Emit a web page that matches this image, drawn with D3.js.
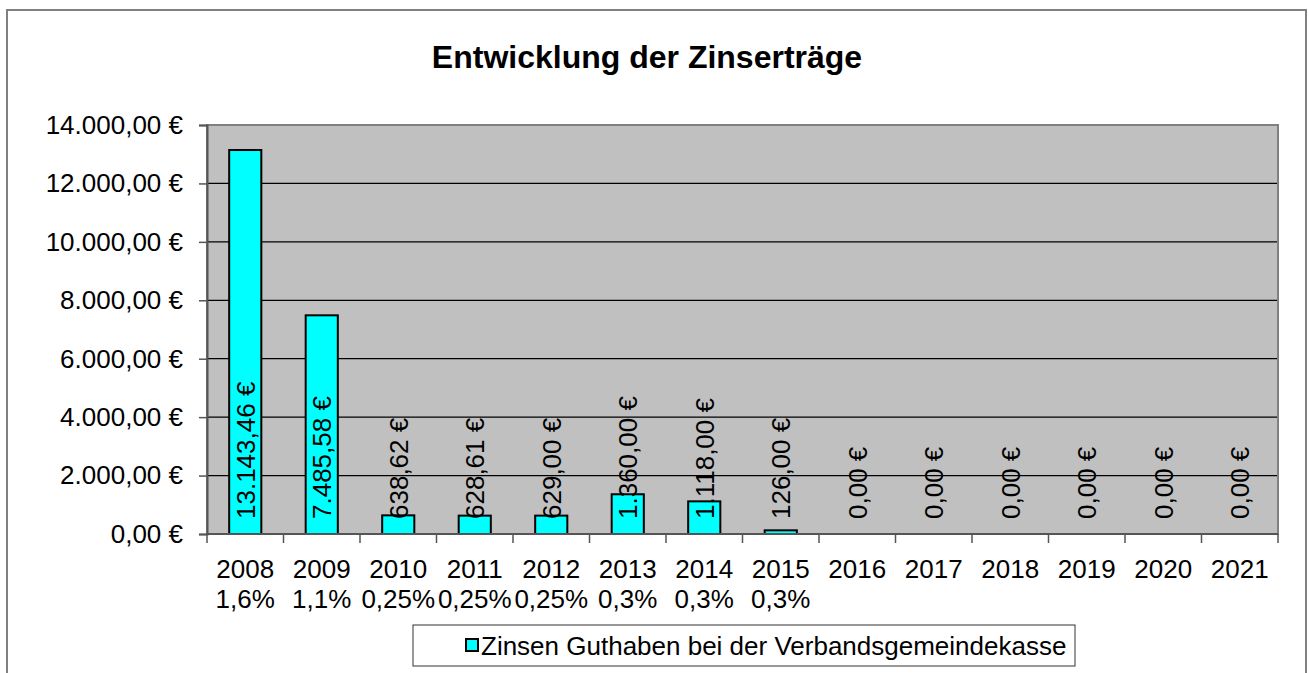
<!DOCTYPE html>
<html><head><meta charset="utf-8">
<script src="https://cdn.jsdelivr.net/npm/d3@7"></script>
<style>body{margin:0;background:#fff}svg{display:block}text{font-family:"Liberation Sans",Arial,sans-serif}</style>
</head><body>
<script>
const years = ["2008","2009","2010","2011","2012","2013","2014","2015","2016","2017","2018","2019","2020","2021"];
const rates = ["1,6%","1,1%","0,25%","0,25%","0,25%","0,3%","0,3%","0,3%","","","","","",""];
const values = [13143.46,7485.58,638.62,628.61,629.00,1360.00,1118.00,126.00,0,0,0,0,0,0];
const yTicks = [0,2000,4000,6000,8000,10000,12000,14000];
const title = "Entwicklung der Zinserträge";
const seriesName = "Zinsen Guthaben bei der Verbandsgemeindekasse";

const W=1309,H=673;
const m={l:207,r:1278,t:125,b:534};
const fmt = v => { const s = d3.format(",.2f")(v); return s.replace(/,/g,"#").replace(/\./g,",").replace(/#/g,".")+" €"; };

const svg=d3.select("body").append("svg").attr("width",W).attr("height",H);
svg.append("rect").attr("x",7).attr("y",10).attr("width",1299).attr("height",700).attr("fill","#fff").attr("stroke","#808080").attr("stroke-width",2);

svg.append("text").attr("x",647).attr("y",68).attr("text-anchor","middle").attr("font-size",32).attr("font-weight","bold").text(title);

const x=d3.scaleBand().domain(years).range([m.l,m.r]).paddingInner(0.58).paddingOuter(0.29);
const xb=d3.scaleBand().domain(years).range([m.l,m.r]);
const y=d3.scaleLinear().domain([0,14000]).range([m.b,m.t]);

svg.append("rect").attr("x",m.l).attr("y",m.t).attr("width",m.r-m.l).attr("height",m.b-m.t).attr("fill","#c0c0c0");
svg.append("g").selectAll("line").data(yTicks.filter(d=>d>0)).join("line")
  .attr("x1",m.l).attr("x2",m.r).attr("y1",d=>y(d)).attr("y2",d=>y(d)).attr("stroke","#000").attr("stroke-width",1.2);
svg.append("rect").attr("x",m.l).attr("y",m.t).attr("width",m.r-m.l).attr("height",m.b-m.t).attr("fill","none").attr("stroke","#808080").attr("stroke-width",2);

// bars
svg.append("g").selectAll("rect").data(values).join("rect")
  .attr("x",(d,i)=>x(years[i])).attr("width",x.bandwidth())
  .attr("y",d=>y(d)).attr("height",d=>y(0)-y(d))
  .attr("fill","#00ffff").attr("stroke","#000").attr("stroke-width",2)
  .style("display",d=>d>0?null:"none");

// y axis
const ya=svg.append("g").attr("transform",`translate(${m.l},0)`).call(d3.axisLeft(y).tickValues(yTicks).tickFormat(fmt).tickSize(8).tickPadding(16));
ya.select(".domain").attr("stroke","#555").attr("stroke-width",2);
ya.selectAll(".tick line").attr("stroke","#555").attr("stroke-width",1.5);
ya.selectAll("text").attr("font-size",26).attr("fill","#000").attr("font-family","Liberation Sans, Arial, sans-serif");

// x axis
const xa=svg.append("g").attr("transform",`translate(0,${m.b})`);
xa.append("line").attr("x1",m.l).attr("x2",m.r).attr("stroke","#555").attr("stroke-width",2);
xa.selectAll("line.t").data(years.concat(["end"])).join("line").attr("class","t")
  .attr("x1",(d,i)=>m.l+i*xb.bandwidth()).attr("x2",(d,i)=>m.l+i*xb.bandwidth()).attr("y1",0).attr("y2",9)
  .attr("stroke","#555").attr("stroke-width",1.5);
const xl=xa.selectAll("text.lab").data(years).join("text").attr("class","lab")
  .attr("x",d=>xb(d)+xb.bandwidth()/2).attr("y",44).attr("text-anchor","middle").attr("font-size",26);
xl.append("tspan").attr("x",d=>xb(d)+xb.bandwidth()/2).text(d=>d);
xl.append("tspan").attr("x",d=>xb(d)+xb.bandwidth()/2).attr("dy",30).text((d,i)=>rates[i]);

// value labels
svg.append("g").selectAll("text").data(values).join("text")
  .attr("transform",(d,i)=>`translate(${xb(years[i])+xb.bandwidth()/2},${m.b-15}) rotate(-90)`)
  .attr("dy","0.36em").attr("font-size",26).text(d=>fmt(d));

// legend
svg.append("rect").attr("x",413).attr("y",625).attr("width",662).attr("height",41).attr("fill","#fff").attr("stroke","#333").attr("stroke-width",1);
svg.append("rect").attr("x",466).attr("y",639).attr("width",12).attr("height",12).attr("fill","#00ffff").attr("stroke","#000").attr("stroke-width",2);
svg.append("text").attr("x",481).attr("y",655).attr("font-size",26).text(seriesName);
</script>
</body></html>
